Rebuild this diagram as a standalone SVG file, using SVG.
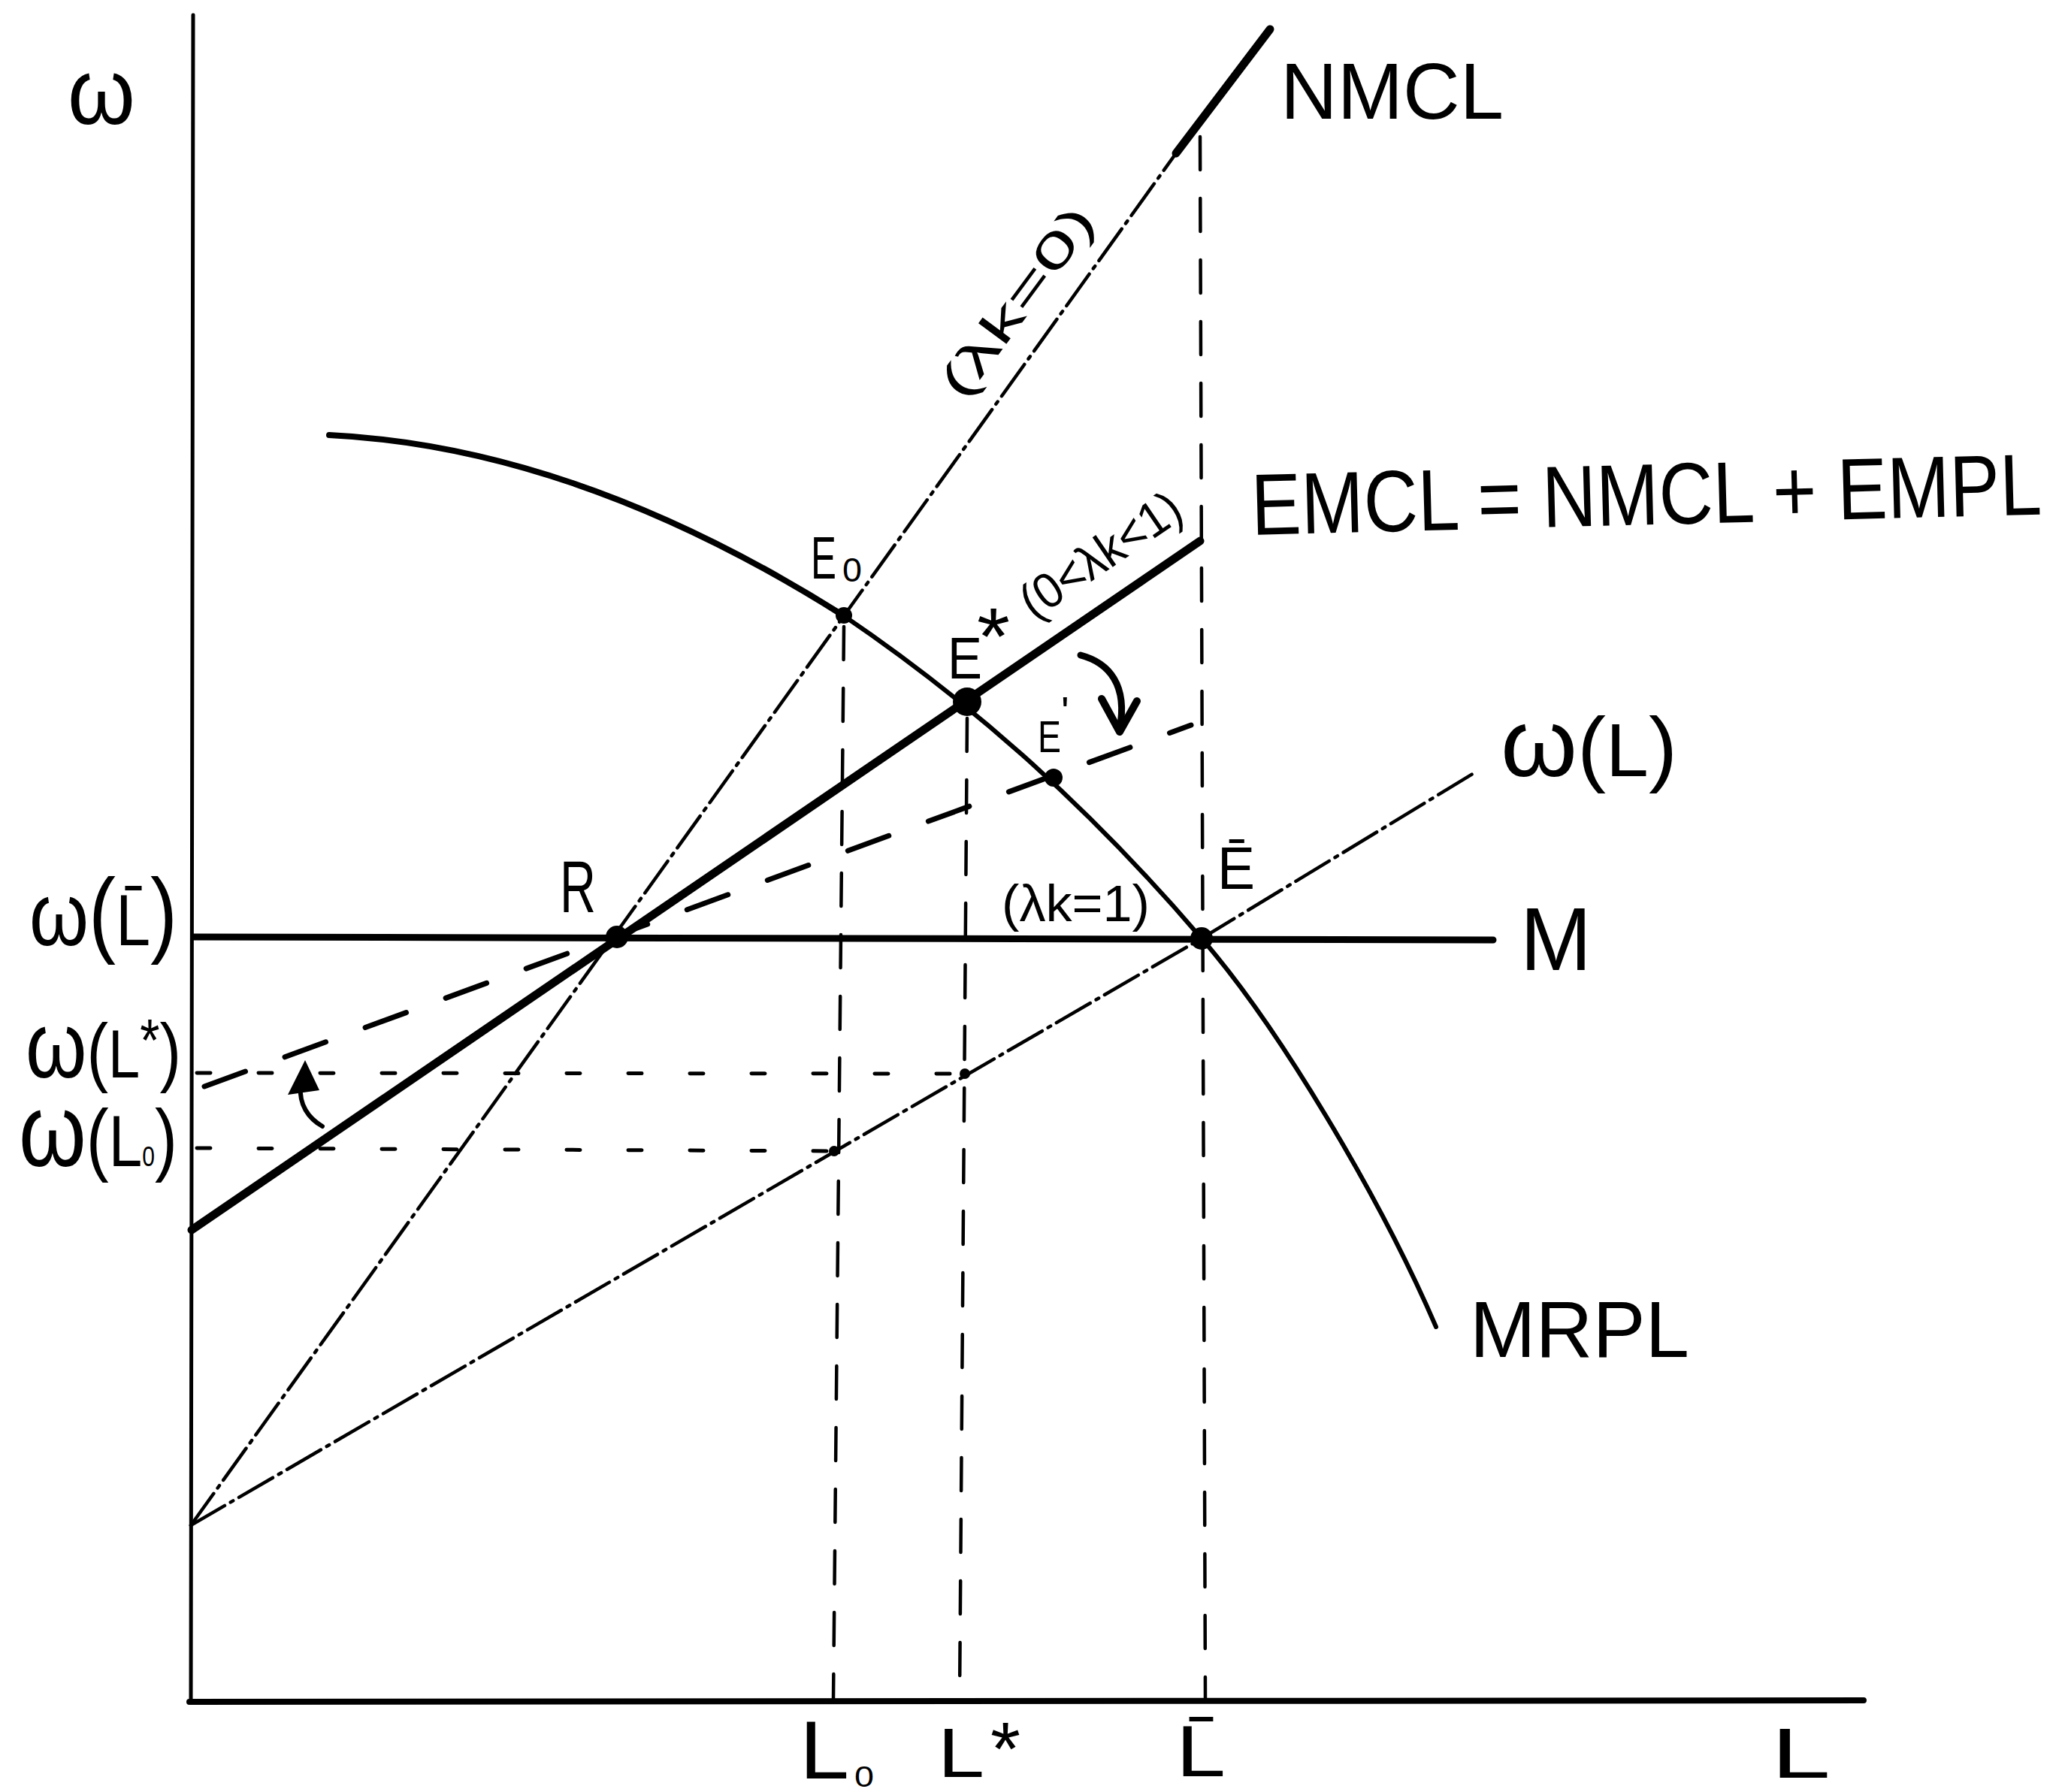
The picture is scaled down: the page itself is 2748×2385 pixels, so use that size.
<svg xmlns="http://www.w3.org/2000/svg" width="2748" height="2385" viewBox="0 0 2748 2385">
<style>
.t{font-family:"Liberation Sans","DejaVu Sans",sans-serif;fill:#000}
.ln{fill:none;stroke:#000;stroke-linecap:round;stroke-linejoin:round}
.thin{stroke-width:4.5;stroke-dasharray:52 9 4 9}
.vd{stroke-width:4.5;stroke-dasharray:44 38}
.hd{stroke-width:5;stroke-dasharray:18 64}
.dot{fill:#000}
</style>
<rect width="2748" height="2385" fill="#fff"/>
<g id="connectors">
  <line id="y-axis" class="ln" x1="257" y1="20" x2="254" y2="2266" stroke-width="5"/>
  <line id="x-axis" class="ln" x1="252" y1="2265" x2="2480" y2="2263" stroke-width="8"/>
  <line id="nmcl-thin" class="ln thin" x1="254" y1="2030" x2="1565" y2="204"/>
  <path id="nmcl-thick" class="ln" d="M1565,204 L1690,39" stroke-width="11"/>
  <polyline id="wL" class="ln thin" points="254,2030 1599,1249 1963,1028"/>
  <line id="M" class="ln" x1="258" y1="1247" x2="1987" y2="1251" stroke-width="9"/>
  <line id="emcl" class="ln" x1="255" y1="1637" x2="1597" y2="720" stroke-width="11"/>
  <line id="dashed-shift" class="ln" x1="272" y1="1446" x2="1585" y2="965" stroke-width="7" stroke-dasharray="58 56"/>
  <line id="v-L0" class="ln vd" x1="1123" y1="834" x2="1109" y2="2262"/>
  <line id="v-Lstar" class="ln vd" x1="1287" y1="956" x2="1277" y2="2262"/>
  <line id="v-Lbar" class="ln vd" x1="1597" y1="182" x2="1604" y2="2262"/>
  <line id="h-wLstar" class="ln hd" x1="262" y1="1428" x2="1284" y2="1429"/>
  <line id="h-wL0" class="ln hd" x1="262" y1="1528" x2="1110" y2="1532"/>
  <path id="mrpl-a" class="ln" d="M438,579 C666,590 894,675 1122,819" stroke-width="8"/>
  <path id="mrpl-b" class="ln" d="M1122,819 C1281,927 1440,1063 1599,1249 C1700,1365 1835,1590 1911,1766" stroke-width="6"/>
  <path id="arrow-right" class="ln" d="M1438,872 C1476,882 1501,912 1490,970" stroke-width="9"/>
  <polyline class="ln" points="1466,930 1490,974 1513,933" stroke-width="10"/>
  <path id="arrow-left" class="ln" d="M429,1499 C410,1488 398,1470 400,1446" stroke-width="6"/>
  <polygon class="dot" points="406,1411 383,1457 425,1451"/>
</g>
<g id="points">
  <circle id="pt-E0" class="dot" cx="1123" cy="819" r="11"/>
  <circle id="pt-Estar" class="dot" cx="1287" cy="934" r="19"/>
  <circle id="pt-Eprime" class="dot" cx="1402" cy="1035" r="12"/>
  <circle id="pt-R" class="dot" cx="821" cy="1247" r="15"/>
  <circle id="pt-Ebar" class="dot" cx="1599" cy="1249" r="15"/>
  <circle id="pt-wLstar" class="dot" cx="1284" cy="1429" r="7"/>
  <circle id="pt-wL0" class="dot" cx="1110" cy="1532" r="7"/>
</g>
<g id="labels">
  <g id="lbl-omega"><text class="t" x="90" y="165" font-size="125" textLength="90" lengthAdjust="spacingAndGlyphs">ω</text></g>
  <g id="lbl-NMCL"><text class="t" x="1704" y="158" font-size="105" textLength="297" lengthAdjust="spacingAndGlyphs">NMCL</text></g>
  <g id="lbl-lk0"><text class="t" transform="translate(1282,535) rotate(-53.5)" x="0" y="0" font-size="64" textLength="300" lengthAdjust="spacingAndGlyphs">(λk=0)</text></g>
  <g id="lbl-EMCL"><text class="t" transform="translate(1666,712) rotate(-1.5)" x="0" y="0" font-size="116" textLength="1052" lengthAdjust="spacingAndGlyphs">EMCL = NMCL + EMPL</text></g>
  <g id="lbl-E0"><text class="t" x="1079" y="770" font-size="80" textLength="34" lengthAdjust="spacingAndGlyphs">E</text><text class="t" x="1121" y="774" font-size="44" textLength="26" lengthAdjust="spacingAndGlyphs">0</text></g>
  <g id="lbl-Estar"><text class="t" x="1261" y="903" font-size="78" textLength="46" lengthAdjust="spacingAndGlyphs">E</text><text class="t" x="1300" y="884" font-size="108" textLength="44" lengthAdjust="spacingAndGlyphs">*</text></g>
  <g id="lbl-lk01"><text class="t" transform="translate(1376,826) rotate(-34.3)" x="0" y="0" font-size="66" textLength="245" lengthAdjust="spacingAndGlyphs">(0&lt;λk&lt;1)</text></g>
  <g id="lbl-Eprime"><text class="t" x="1381" y="1001" font-size="60" textLength="31" lengthAdjust="spacingAndGlyphs">E</text><text class="t" x="1412" y="966" font-size="56">'</text></g>
  <g id="lbl-R"><text class="t" x="745" y="1214" font-size="98" textLength="48" lengthAdjust="spacingAndGlyphs">R</text></g>
  <g id="lbl-Ebar"><text class="t" x="1620" y="1183" font-size="80" textLength="50" lengthAdjust="spacingAndGlyphs">Ē</text></g>
  <g id="lbl-lk1"><text class="t" x="1333" y="1226" font-size="68" textLength="197" lengthAdjust="spacingAndGlyphs">(λk=1)</text></g>
  <g id="lbl-wL"><text class="t" x="1997" y="1033" font-size="110" textLength="235" lengthAdjust="spacingAndGlyphs"><tspan font-size="128">ω</tspan><tspan font-size="112">(</tspan><tspan font-size="100">L</tspan><tspan font-size="112">)</tspan></text></g>
  <g id="lbl-M"><text class="t" x="2023" y="1291" font-size="118" textLength="95" lengthAdjust="spacingAndGlyphs">M</text></g>
  <g id="lbl-MRPL"><text class="t" x="1956" y="1806" font-size="105" textLength="292" lengthAdjust="spacingAndGlyphs">MRPL</text></g>
  <g id="lbl-wLbar"><text class="t" x="39" y="1258" font-size="100" textLength="197" lengthAdjust="spacingAndGlyphs"><tspan font-size="118">ω</tspan><tspan font-size="126">(</tspan><tspan font-size="96">L̄</tspan><tspan font-size="126">)</tspan></text></g>
  <g id="lbl-wLstar"><text class="t" x="34" y="1434" font-size="100" textLength="207" lengthAdjust="spacingAndGlyphs"><tspan font-size="124">ω</tspan><tspan font-size="102">(</tspan><tspan font-size="90">L</tspan><tspan font-size="80" dy="-22">*</tspan><tspan font-size="102" dy="22">)</tspan></text></g>
  <g id="lbl-wL0"><text class="t" x="25" y="1552" font-size="100" textLength="211" lengthAdjust="spacingAndGlyphs"><tspan font-size="138">ω</tspan><tspan font-size="108">(</tspan><tspan font-size="96">L</tspan><tspan font-size="36">0</tspan><tspan font-size="108">)</tspan></text></g>
  <g id="lbl-L0"><text class="t" x="1064" y="2367" font-size="110" textLength="66" lengthAdjust="spacingAndGlyphs">L</text><text class="t" x="1137" y="2378" font-size="38" textLength="26" lengthAdjust="spacingAndGlyphs">0</text></g>
  <g id="lbl-Lstar"><text class="t" x="1248" y="2365" font-size="92" textLength="62" lengthAdjust="spacingAndGlyphs">L</text><text class="t" x="1318" y="2362" font-size="100" textLength="40" lengthAdjust="spacingAndGlyphs">*</text></g>
  <g id="lbl-Lbar"><text class="t" x="1565" y="2364" font-size="96" textLength="66" lengthAdjust="spacingAndGlyphs">L̄</text></g>
  <g id="lbl-L"><text class="t" x="2357" y="2366" font-size="95" textLength="79" lengthAdjust="spacingAndGlyphs">L</text></g>
</g>
</svg>
